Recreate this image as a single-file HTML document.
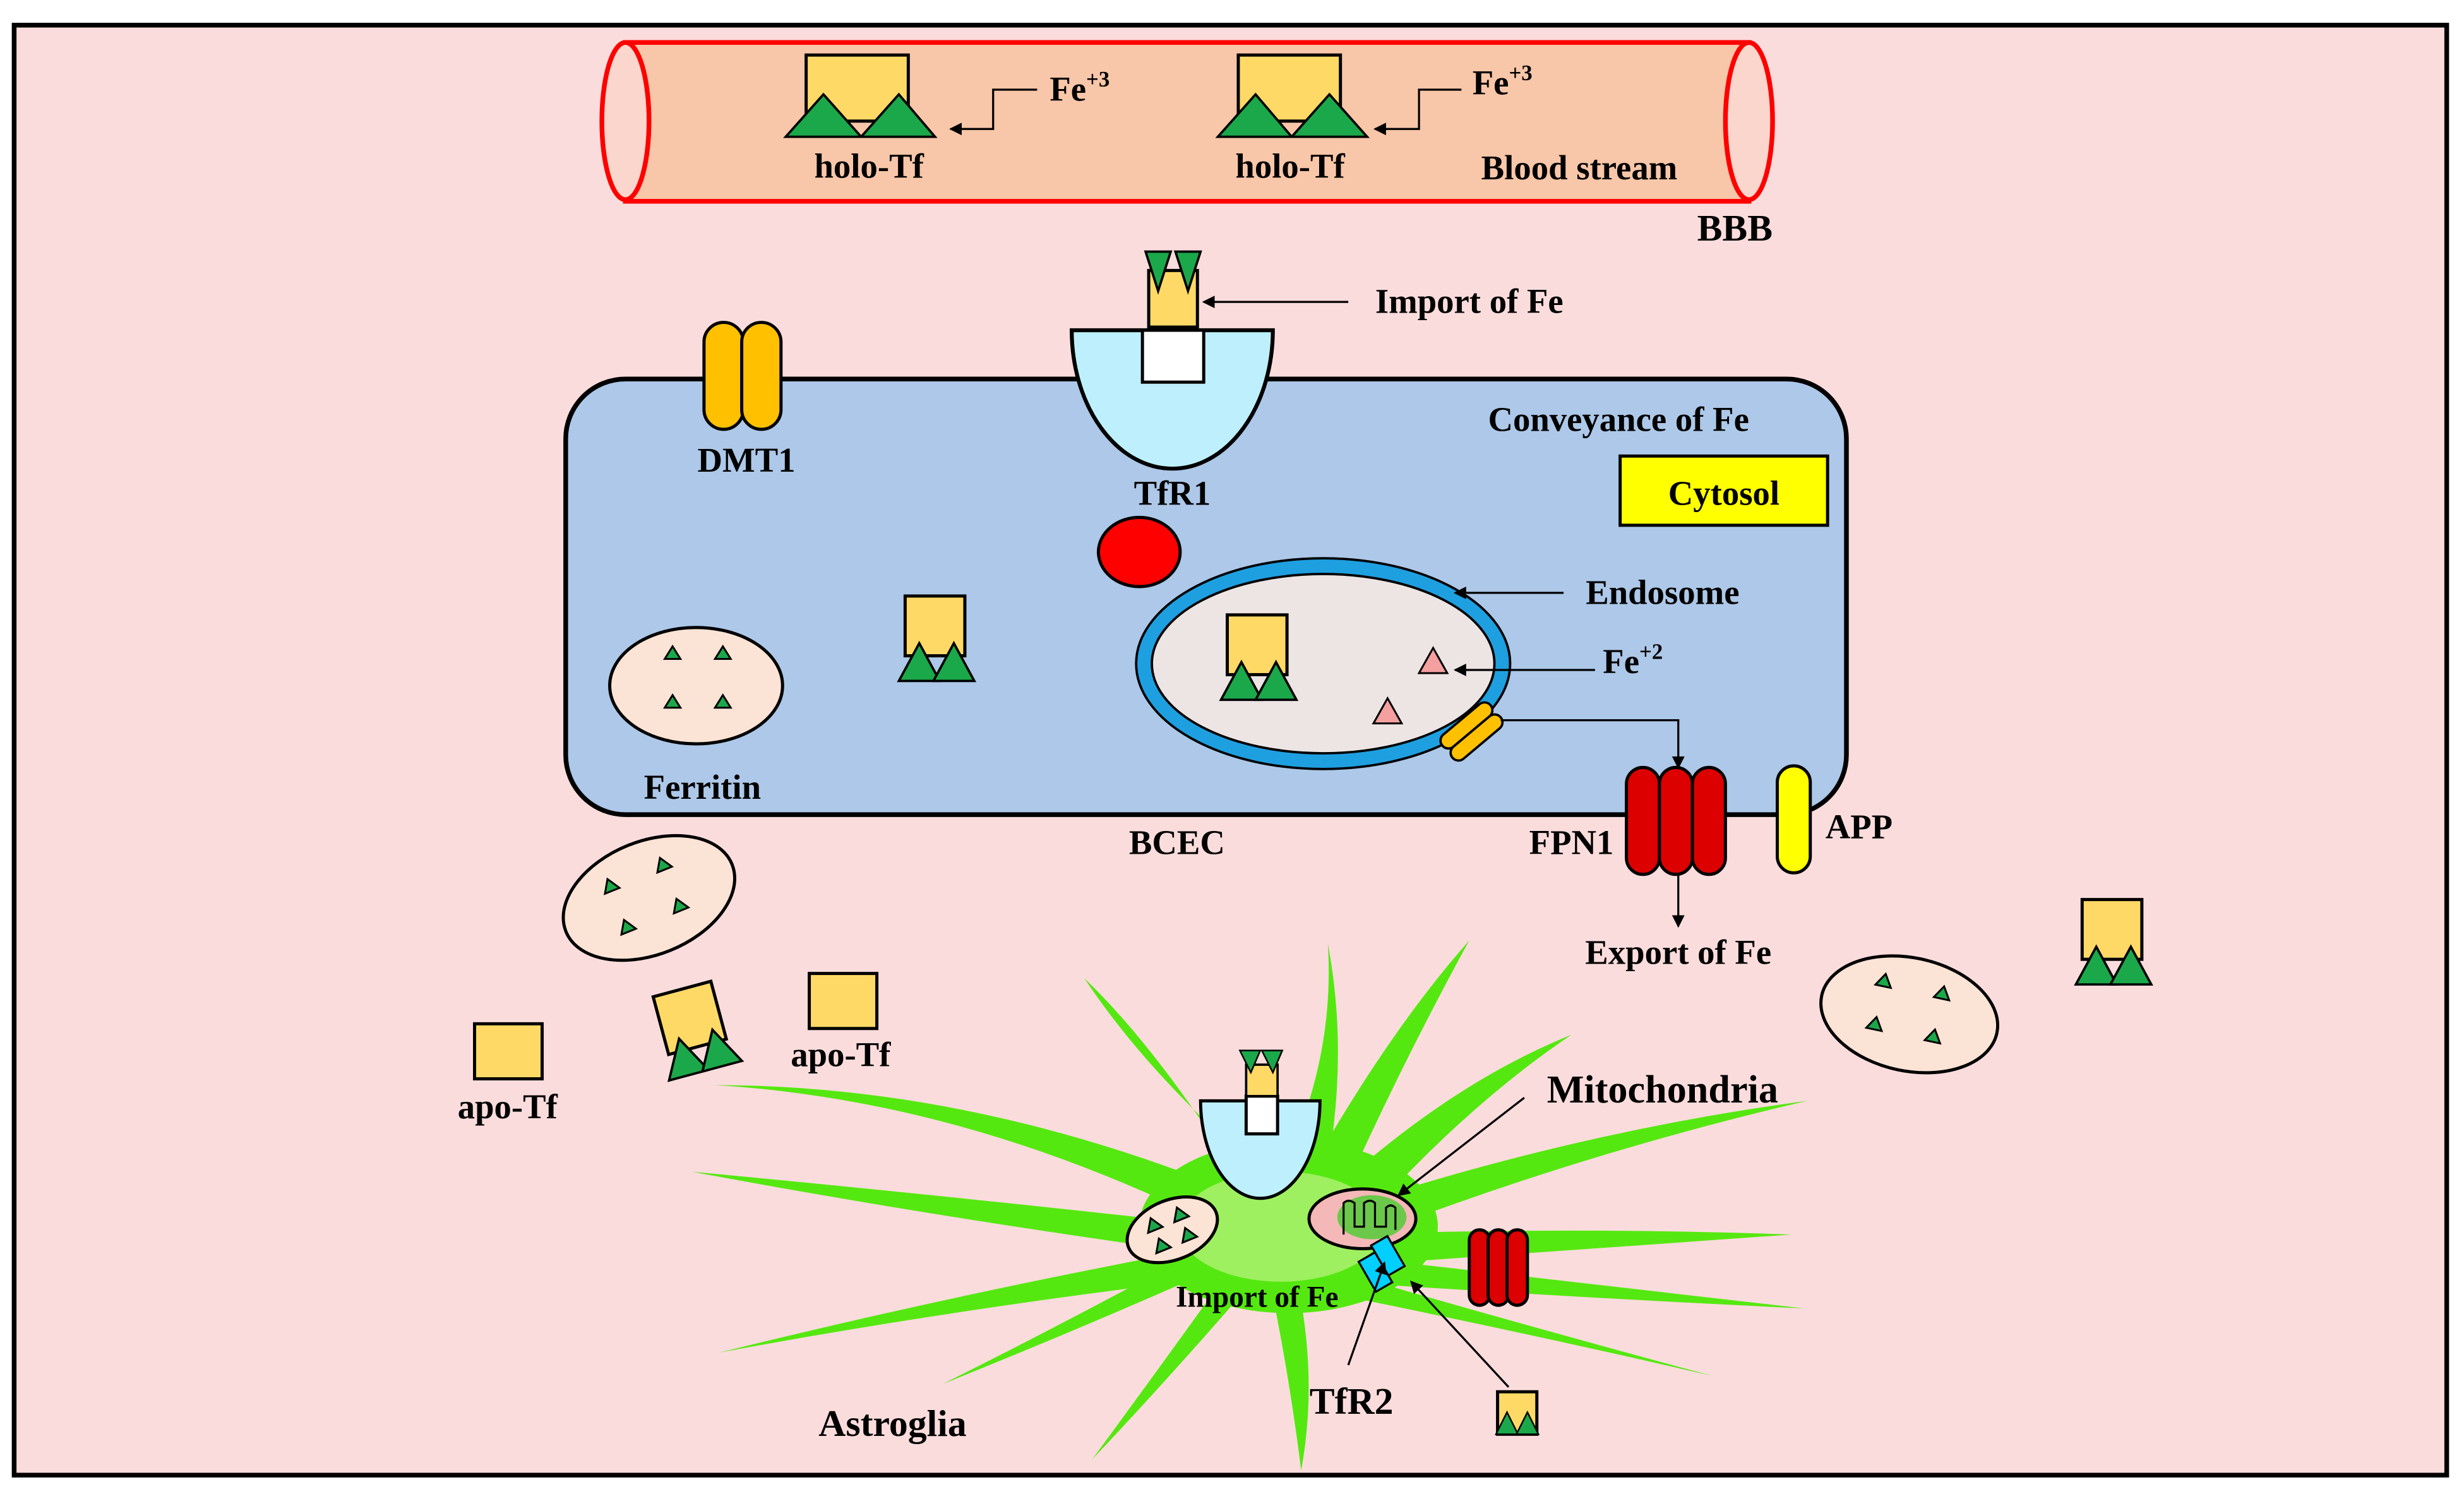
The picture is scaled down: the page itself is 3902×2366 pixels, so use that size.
<!DOCTYPE html>
<html><head><meta charset="utf-8"><style>
html,body{margin:0;padding:0;background:#fbdcdc;}
svg{display:block;}
text{font-family:"Liberation Serif",serif;font-weight:bold;fill:#000;}
</style></head><body>
<svg width="3902" height="2366" viewBox="0 0 1568 950" preserveAspectRatio="none" xmlns="http://www.w3.org/2000/svg">
<defs>
<marker id="ah" markerWidth="8" markerHeight="8" refX="7" refY="4" orient="auto" markerUnits="userSpaceOnUse"><path d="M0,0 L8,4 L0,8 z" fill="#000"/></marker>
<g id="holo">
<rect x="0" y="0" width="38" height="38" fill="#ffd966" stroke="#000" stroke-width="2"/>
<polygon points="-4,54 9,30 22,54" fill="#1ba84a" stroke="#000" stroke-width="1.5"/>
<polygon points="18,54 31,30 44,54" fill="#1ba84a" stroke="#000" stroke-width="1.5"/>
</g>
<g id="tri"><polygon points="0,8 5,0 10,8" fill="#1ba84a" stroke="#000" stroke-width="1.2"/></g>
</defs>
<rect x="0" y="0" width="1568" height="950" fill="#fff"/>
<rect x="9" y="16" width="1548" height="922" fill="#fbdcdc" stroke="#000" stroke-width="3"/>

<!-- vessel -->
<rect x="398" y="27" width="715" height="101" fill="#f8c6a8" stroke="#f00" stroke-width="3"/>
<ellipse cx="398" cy="77" rx="15" ry="50" fill="#fbd6cc" stroke="#f00" stroke-width="3"/>
<ellipse cx="1113" cy="77" rx="15" ry="50" fill="#fbd6cc" stroke="#f00" stroke-width="3"/>
<rect x="513" y="35" width="65" height="42" fill="#ffd966" stroke="#000" stroke-width="2"/>
<polygon points="500,87 524,60 548,87" fill="#1ba84a" stroke="#000" stroke-width="1.5"/>
<polygon points="548,87 572,60 595,87" fill="#1ba84a" stroke="#000" stroke-width="1.5"/>
<rect x="788" y="35" width="65" height="42" fill="#ffd966" stroke="#000" stroke-width="2"/>
<polygon points="775,87 799,60 822,87" fill="#1ba84a" stroke="#000" stroke-width="1.5"/>
<polygon points="822,87 846,60 870,87" fill="#1ba84a" stroke="#000" stroke-width="1.5"/>
<text x="553" y="113" font-size="22" text-anchor="middle">holo-Tf</text>
<text x="821" y="113" font-size="22" text-anchor="middle">holo-Tf</text>
<text x="668" y="64" font-size="22">Fe<tspan font-size="14" dy="-9">+3</tspan></text>
<text x="937" y="60" font-size="22">Fe<tspan font-size="14" dy="-9">+3</tspan></text>
<polyline points="660,57 632,57 632,82 605,82" fill="none" stroke="#000" stroke-width="1.3" marker-end="url(#ah)"/>
<polyline points="930,57 903,57 903,82 875,82" fill="none" stroke="#000" stroke-width="1.3" marker-end="url(#ah)"/>
<text x="1005" y="114" font-size="22" text-anchor="middle">Blood stream</text>
<text x="1104" y="153" font-size="24" text-anchor="middle">BBB</text>

<!-- BCEC cell -->
<rect x="360" y="241" width="815" height="277" rx="38" fill="#adc8e8" stroke="#000" stroke-width="3"/>
<path d="M682,210 L810,210 A64,88 0 0 1 682,210 Z" fill="#bdf0fc" stroke="#000" stroke-width="2.5"/>
<rect x="727" y="210" width="39" height="33" fill="#fff" stroke="#000" stroke-width="2"/>
<rect x="731" y="172" width="31" height="36" fill="#ffd966" stroke="#000" stroke-width="2"/>
<polygon points="729,160 745,160 737,185" fill="#1ba84a" stroke="#000" stroke-width="1.5"/>
<polygon points="748,160 764,160 756,185" fill="#1ba84a" stroke="#000" stroke-width="1.5"/>
<text x="746" y="321" font-size="22" text-anchor="middle">TfR1</text>
<line x1="858" y1="192" x2="766" y2="192" stroke="#000" stroke-width="1.3" marker-end="url(#ah)"/>
<text x="935" y="199" font-size="22" text-anchor="middle">Import  of Fe</text>
<rect x="448" y="205" width="25" height="68" rx="12.5" fill="#ffc000" stroke="#000" stroke-width="2"/>
<rect x="472" y="205" width="25" height="68" rx="12.5" fill="#ffc000" stroke="#000" stroke-width="2"/>
<text x="475" y="300" font-size="22" text-anchor="middle">DMT1</text>
<text x="1030" y="274" font-size="22" text-anchor="middle">Conveyance of Fe</text>
<rect x="1031" y="290" width="132" height="44" fill="#ffff00" stroke="#000" stroke-width="2"/>
<text x="1097" y="321" font-size="22" text-anchor="middle">Cytosol</text>
<ellipse cx="725" cy="351" rx="26" ry="22" fill="#f00" stroke="#000" stroke-width="2"/>
<ellipse cx="842" cy="422" rx="114" ry="62" fill="#ede4e4" stroke="#1e9fe0" stroke-width="9"/>
<ellipse cx="842" cy="422" rx="119" ry="67" fill="none" stroke="#000" stroke-width="1.5"/>
<ellipse cx="842" cy="422" rx="109" ry="57" fill="none" stroke="#000" stroke-width="1.5"/>
<use href="#holo" x="781" y="391"/>
<polygon points="903,428 912,412 921,428" fill="#f4a0a0" stroke="#000" stroke-width="1.2"/>
<polygon points="874,460 883,444 892,460" fill="#f4a0a0" stroke="#000" stroke-width="1.2"/>
<text x="1020" y="428" font-size="22">Fe<tspan font-size="14" dy="-9">+2</tspan></text>
<line x1="1015" y1="426" x2="926" y2="426" stroke="#000" stroke-width="1.3" marker-end="url(#ah)"/>
<text x="1058" y="384" font-size="22" text-anchor="middle">Endosome</text>
<line x1="995" y1="377" x2="926" y2="377" stroke="#000" stroke-width="1.3" marker-end="url(#ah)"/>
<g transform="rotate(-40 935 465)">
<rect x="916" y="456" width="40" height="10" rx="5" fill="#ffc000" stroke="#000" stroke-width="1.5"/>
<rect x="916" y="466" width="40" height="10" rx="5" fill="#ffc000" stroke="#000" stroke-width="1.5"/>
</g>
<polyline points="955,458 1068,458 1068,488" fill="none" stroke="#000" stroke-width="1.3" marker-end="url(#ah)"/>
<ellipse cx="443" cy="436" rx="55" ry="37" fill="#fbe3d5" stroke="#000" stroke-width="2"/>
<use href="#tri" x="423" y="411"/><use href="#tri" x="455" y="411"/><use href="#tri" x="423" y="442"/><use href="#tri" x="455" y="442"/>
<text x="447" y="508" font-size="22" text-anchor="middle">Ferritin</text>
<use href="#holo" x="576" y="379"/>
<text x="749" y="543" font-size="22" text-anchor="middle">BCEC</text>
<rect x="1035" y="488" width="21" height="68" rx="10.5" fill="#d00" stroke="#000" stroke-width="2"/>
<rect x="1056" y="488" width="21" height="68" rx="10.5" fill="#d00" stroke="#000" stroke-width="2"/>
<rect x="1077" y="488" width="21" height="68" rx="10.5" fill="#d00" stroke="#000" stroke-width="2"/>
<text x="1000" y="543" font-size="22" text-anchor="middle">FPN1</text>
<rect x="1131" y="487" width="21" height="68" rx="10.5" fill="#ffff00" stroke="#000" stroke-width="2"/>
<text x="1183" y="533" font-size="22" text-anchor="middle">APP</text>
<line x1="1068" y1="556" x2="1068" y2="589" stroke="#000" stroke-width="1.3" marker-end="url(#ah)"/>
<text x="1068" y="613" font-size="22" text-anchor="middle">Export  of Fe</text>

<!-- outside -->
<g transform="rotate(-22 413 571)">
<ellipse cx="413" cy="571" rx="57" ry="36" fill="#fbe3d5" stroke="#000" stroke-width="2"/>
<use href="#tri" x="388" y="550"/><use href="#tri" x="424" y="550"/><use href="#tri" x="388" y="578"/><use href="#tri" x="424" y="578"/>
</g>
<g transform="rotate(12 1215 645)">
<ellipse cx="1215" cy="645" rx="57" ry="36" fill="#fbe3d5" stroke="#000" stroke-width="2"/>
<use href="#tri" x="1190" y="623"/><use href="#tri" x="1228" y="623"/><use href="#tri" x="1190" y="651"/><use href="#tri" x="1228" y="651"/>
</g>
<use href="#holo" x="1325" y="572"/>
<rect x="302" y="651" width="43" height="35" fill="#ffd966" stroke="#000" stroke-width="2"/>
<text x="323" y="711" font-size="22" text-anchor="middle">apo-Tf</text>
<rect x="515" y="619" width="43" height="35" fill="#ffd966" stroke="#000" stroke-width="2"/>
<text x="535" y="678" font-size="22" text-anchor="middle">apo-Tf</text>
<g transform="rotate(-15 441 655)"><use href="#holo" x="422" y="628"/></g>

<!-- astroglia -->
<g fill="#55e810">
<path d="M790,760 Q620,690 455,690 Q620,700 785,785 Z"/>
<path d="M780,780 Q600,760 440,745 Q600,775 785,800 Z"/>
<path d="M785,790 Q620,820 458,860 Q620,830 795,810 Z"/>
<path d="M795,760 Q740,670 690,622 Q735,690 820,760 Z"/>
<path d="M810,755 Q850,680 845,600 Q860,680 840,765 Z"/>
<path d="M825,760 Q880,660 935,598 Q890,680 850,770 Z"/>
<path d="M840,765 Q920,690 1000,658 Q930,705 860,785 Z"/>
<path d="M850,770 Q1000,720 1150,700 Q1000,735 860,790 Z"/>
<path d="M855,785 Q1000,780 1140,785 Q1000,795 855,805 Z"/>
<path d="M850,798 Q1000,815 1148,832 Q1000,825 850,815 Z"/>
<path d="M840,805 Q960,840 1090,875 Q960,845 835,820 Z"/>
<path d="M822,800 Q840,870 828,935 Q820,870 805,800 Z"/>
<path d="M810,800 Q750,870 695,928 Q745,860 795,790 Z"/>
<path d="M800,795 Q700,840 600,880 Q700,830 790,780 Z"/>
</g>
<ellipse cx="820" cy="780" rx="95" ry="55" fill="#55e810"/>
<ellipse cx="815" cy="780" rx="65" ry="35" fill="#9ef060"/>
<path d="M764,700 L840,700 A38,62 0 0 1 764,700 Z" fill="#bdf0fc" stroke="#000" stroke-width="2"/>
<rect x="793" y="697" width="20" height="24" fill="#fff" stroke="#000" stroke-width="2"/>
<rect x="793" y="677" width="20" height="20" fill="#ffd966" stroke="#000" stroke-width="1.5"/>
<polygon points="789,668 802,668 796,682" fill="#1ba84a" stroke="#000" stroke-width="1"/>
<polygon points="803,668 816,668 810,682" fill="#1ba84a" stroke="#000" stroke-width="1"/>
<g transform="rotate(-22 746 782)">
<ellipse cx="746" cy="782" rx="30" ry="19" fill="#fbe3d5" stroke="#000" stroke-width="2"/>
<use href="#tri" x="731" y="770"/><use href="#tri" x="749" y="770"/><use href="#tri" x="731" y="784"/><use href="#tri" x="749" y="784"/>
</g>
<ellipse cx="867" cy="775" rx="34" ry="19" fill="#f4b8b8" stroke="#000" stroke-width="2"/>
<ellipse cx="873" cy="774" rx="22" ry="14" fill="#6cc84a"/>
<path d="M855,785 L855,765 Q858,762 862,765 L862,780 L868,780 L868,765 Q872,762 875,765 L875,780 L882,780 L882,768 Q885,765 888,768 L888,782" fill="none" stroke="#000" stroke-width="1.3"/>
<g transform="rotate(-30 880 805)">
<rect x="868" y="795" width="12" height="22" fill="#00cfff" stroke="#000" stroke-width="1.3"/>
<rect x="880" y="790" width="12" height="22" fill="#00cfff" stroke="#000" stroke-width="1.3"/>
</g>
<rect x="935" y="782" width="13" height="48" rx="6.5" fill="#d00" stroke="#000" stroke-width="2"/>
<rect x="947" y="782" width="13" height="48" rx="6.5" fill="#d00" stroke="#000" stroke-width="2"/>
<rect x="959" y="782" width="13" height="48" rx="6.5" fill="#d00" stroke="#000" stroke-width="2"/>
<text x="800" y="831" font-size="19" text-anchor="middle">Import of Fe</text>
<text x="860" y="899" font-size="24" text-anchor="middle">TfR2</text>
<text x="568" y="913" font-size="24" text-anchor="middle">Astroglia</text>
<text x="1058" y="701" font-size="25" text-anchor="middle">Mitochondria</text>
<line x1="970" y1="698" x2="890" y2="760" stroke="#000" stroke-width="1.3" marker-end="url(#ah)"/>
<line x1="858" y1="868" x2="881" y2="803" stroke="#000" stroke-width="1.3" marker-end="url(#ah)"/>
<line x1="960" y1="882" x2="898" y2="815" stroke="#000" stroke-width="1.3" marker-end="url(#ah)"/>
<rect x="953" y="885" width="25" height="27" fill="#ffd966" stroke="#000" stroke-width="2"/>
<polygon points="952,912 959,898 966,912" fill="#1ba84a" stroke="#000" stroke-width="1"/>
<polygon points="965,912 972,898 979,912" fill="#1ba84a" stroke="#000" stroke-width="1"/>
</svg>
</body></html>
